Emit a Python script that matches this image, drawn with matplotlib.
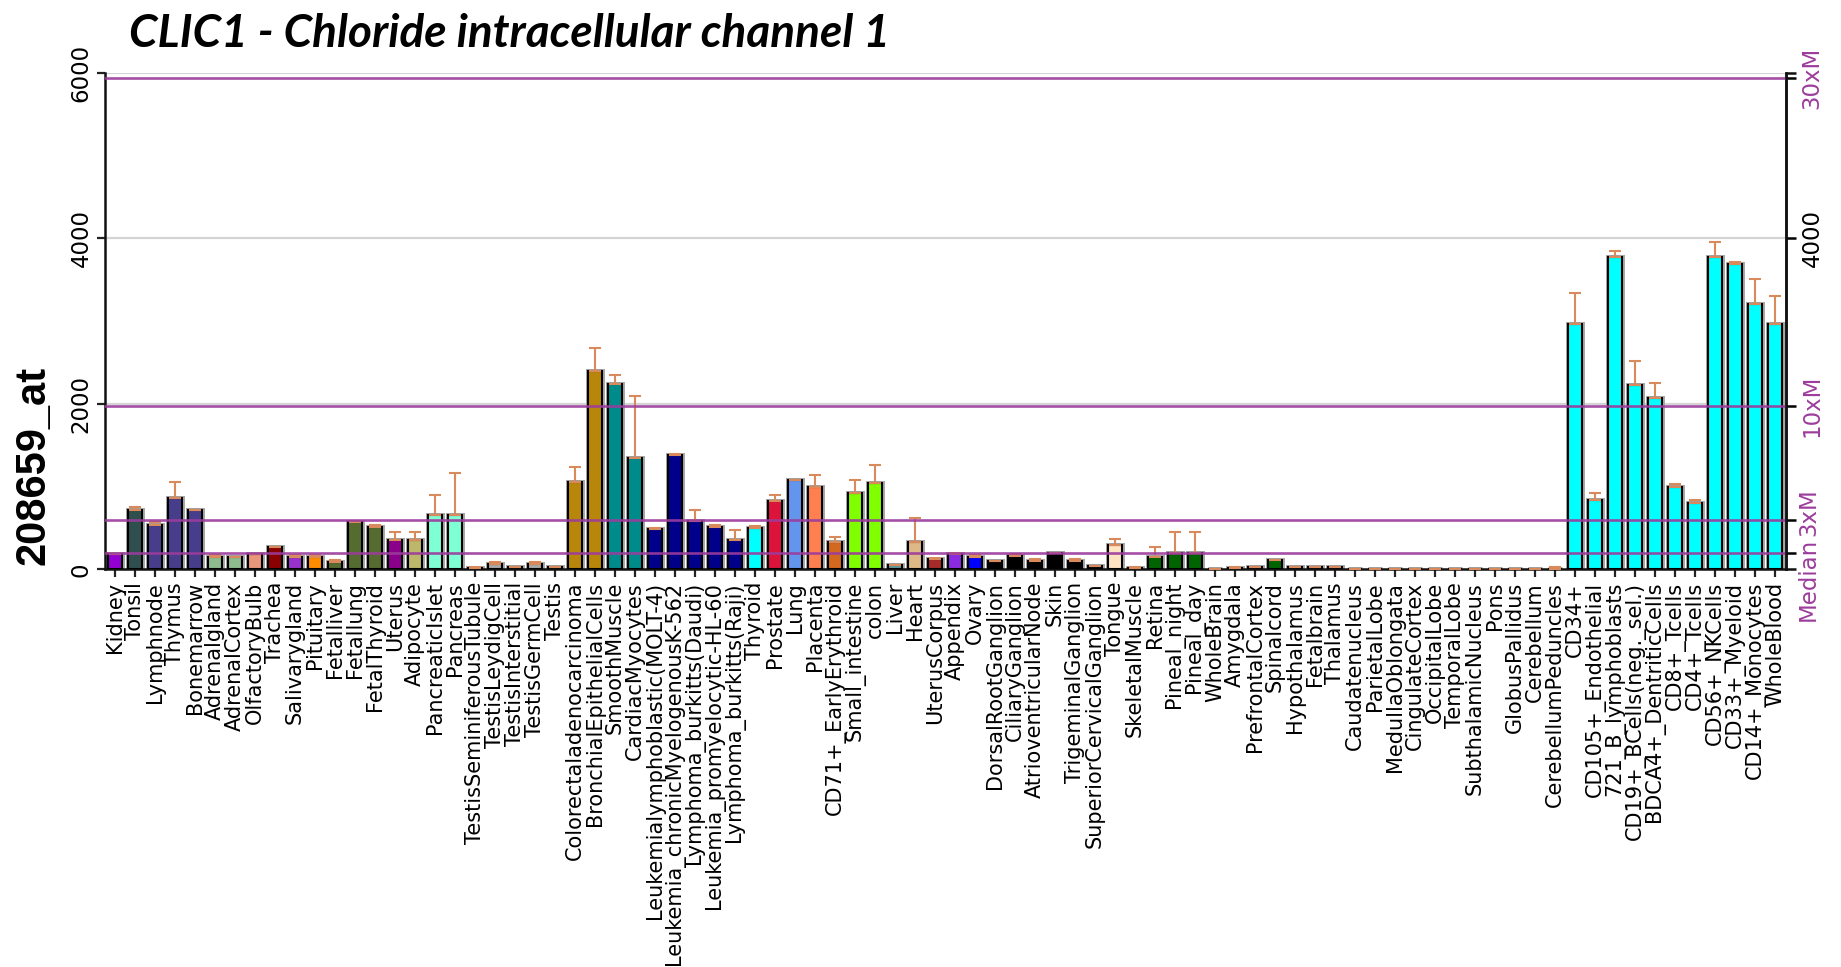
import matplotlib
matplotlib.use("Agg")
import matplotlib.pyplot as plt
import numpy as np

# tissue names, in plot order
tissues = [
    "Kidney", "Tonsil", "Lymphnode", "Thymus", "Bonemarrow", "Adrenalgland",
    "AdrenalCortex", "OlfactoryBulb", "Trachea", "Salivarygland", "Pituitary",
    "Fetalliver", "Fetallung", "FetalThyroid", "Uterus", "Adipocyte",
    "PancreaticIslet", "Pancreas", "TestisSeminiferousTubule", "TestisLeydigCell",
    "TestisInterstitial", "TestisGermCell", "Testis", "Colorectaladenocarcinoma",
    "BronchialEpithelialCells", "SmoothMuscle", "CardiacMyocytes",
    "Leukemialymphoblastic(MOLT-4)", "Leukemia_chronicMyelogenousK-562",
    "Lymphoma_burkitts(Daudi)", "Leukemia_promyelocytic-HL-60",
    "Lymphoma_burkitts(Raji)", "Thyroid", "Prostate", "Lung", "Placenta",
    "CD71+_EarlyErythroid", "Small_intestine", "colon", "Liver", "Heart",
    "UterusCorpus", "Appendix", "Ovary", "DorsalRootGanglion", "CiliaryGanglion",
    "AtrioventricularNode", "Skin", "TrigeminalGanglion",
    "SuperiorCervicalGanglion", "Tongue", "SkeletalMuscle", "Retina",
    "Pineal_night", "Pineal_day", "WholeBrain", "Amygdala", "PrefrontalCortex",
    "Spinalcord", "Hypothalamus", "Fetalbrain", "Thalamus", "Caudatenucleus",
    "ParietalLobe", "MedullaOblongata", "CingulateCortex", "OccipitalLobe",
    "TemporalLobe", "SubthalamicNucleus", "Pons", "GlobusPallidus", "Cerebellum",
    "CerebellumPeduncles", "CD34+", "CD105+_Endothelial", "721_B_lymphoblasts",
    "CD19+_BCells(neg._sel.)", "BDCA4+_DentriticCells", "CD8+_Tcells",
    "CD4+_Tcells", "CD56+_NKCells", "CD33+_Myeloid", "CD14+_Monocytes",
    "WholeBlood",
]

expr = [
    190, 720, 536, 868, 716, 150, 150, 188, 268, 150, 150,
    96, 568, 516, 356, 356, 660, 660, 14, 60, 28, 60, 28, 1052,
    2400, 2245, 1348, 488, 1384, 584, 508, 360, 504, 828, 1076, 996,
    328, 928, 1048, 56, 328, 124, 190, 148, 100, 168, 108, 200, 108,
    40, 300, 18, 156, 200, 200, 5, 18, 28, 120, 28, 28, 28, 4,
    4, 4, 4, 4, 4, 4, 4, 4, 4, 8, 2964, 836, 3780,
    2228, 2068, 996, 808, 3780, 3688, 3208, 2968,
]

err_up = [
    0, 36, 32, 192, 0, 30, 0, 0, 0, 30, 30,
    20, 0, 20, 92, 92, 236, 508, 18, 28, 0, 28, 0, 180,
    275, 100, 750, 12, 16, 140, 24, 120, 24, 68, 0, 140,
    60, 148, 208, 0, 292, 20, 10, 30, 0, 24, 16, 0, 20,
    0, 68, 10, 120, 256, 256, 0, 8, 0, 0, 0, 0, 0, 0,
    0, 0, 0, 0, 0, 0, 0, 0, 0, 20, 376, 92, 64,
    292, 180, 32, 28, 176, 20, 300, 332,
]

bar_colors = (
    ["#9400D3", "#2F4F4F", "#483D8B", "#483D8B", "#483D8B", "#8FBC8F",
     "#8FBC8F", "#E9967A", "#8B0000", "#9932CC", "#FF8C00", "#556B2F",
     "#556B2F", "#556B2F", "#8B008B", "#BDB76B", "#7FFFD4", "#7FFFD4"]
    + ["#A9A9A9"] * 5
    + ["#B8860B", "#B8860B", "#008B8B", "#008B8B"]
    + ["#00008B"] * 5
    + ["#00FFFF", "#DC143C", "#6495ED", "#FF7F50", "#D2691E", "#7FFF00",
       "#7FFF00", "#5F9EA0", "#DEB887", "#A52A2A", "#8A2BE2", "#0000FF"]
    + ["#000000"] * 6
    + ["#FFE4C4", "#000000", "#006400", "#006400", "#006400", "#000000",
       "#000000", "#000000", "#006400"]
    + ["#000000"] * 14
    + ["#00FFFF"] * 11
)

median = 198
ref_lines = [median, 3 * median, 10 * median, 30 * median]
ref_names = ["Median", "3xM", "10xM", "30xM"]

purple = "#9C3C9C"
err_col = "#D98A5C"

fig = plt.figure(figsize=(18.41, 9.67), dpi=100)
ax = fig.add_axes([0.0570, 0.4111, 0.9131, 0.5137])

x = np.arange(len(tissues))
# grey halo, then the bars
ax.bar(x, expr, width=0.68, color="none", edgecolor="#A8A8A8", linewidth=3.6, zorder=2)
ax.bar(x, expr, width=0.68, color=bar_colors, edgecolor="black", linewidth=1.5, zorder=3)
ax.errorbar(x, expr, yerr=[np.zeros(len(expr)), err_up], fmt="none",
            ecolor=err_col, elinewidth=1.5, capsize=4.5, capthick=1.5, zorder=4)

for g in [2000, 4000, 6000]:
    ax.axhline(g, color="#D4D4D4", lw=1.6, zorder=0)
for v in ref_lines:
    ax.axhline(v, color=purple, lw=1.9, alpha=0.9, zorder=5)

ax.set_xlim(-0.5, 83.55)
ax.set_ylim(0, 6000)
ax.set_xticks(x)
ax.set_xticklabels(tissues, rotation=90, fontsize=15, family="DejaVu Sans")
ax.set_yticks([0, 2000, 4000, 6000])
ax.set_yticklabels(["0", "2000", "4000", "6000"], rotation=90, va="center",
                   fontsize=16.5, family="DejaVu Sans")
ax.tick_params(axis="both", length=6, width=1.6, color="#222222", pad=3)

ax.spines["top"].set_visible(False)
for s in ["left", "right", "bottom"]:
    ax.spines[s].set_linewidth(1.8)
    ax.spines[s].set_color("#111111")

# right side axis with the median multiples
ax2 = ax.twinx()
ax2.set_ylim(0, 6000)
r_ticks = [ref_lines[0], ref_lines[1], ref_lines[2], 4000, ref_lines[3]]
r_labels = ["", "", ref_names[2], "4000", ref_names[3]]
ax2.set_yticks(r_ticks)
ax2.set_yticklabels(r_labels, rotation=90, va="center", fontsize=16.5, family="DejaVu Sans")
ax2.set_yticks([0, 6000], minor=True)
ax2.tick_params(axis="y", which="both", length=7, width=1.8)
ax2.tick_params(axis="y", which="minor", color="#111111")
for t, lab in zip(ax2.yaxis.get_major_ticks(), r_labels):
    c = "black" if lab == "4000" else purple
    t.tick2line.set_color(c)
    t.label2.set_color(c)
for s in ["top", "left", "bottom"]:
    ax2.spines[s].set_visible(False)
ax2.spines["right"].set_linewidth(1.8)
ax2.spines["right"].set_color("#111111")

# Median and 3xM are too close, so their labels are placed by hand
lab_tr = ax2.get_yaxis_transform()
ax2.annotate(ref_names[1], xy=(1.0, 690), xycoords=lab_tr, xytext=(8, 0),
             textcoords="offset points", rotation=90, ha="left", va="center",
             fontsize=16.5, color=purple, family="DejaVu Sans", annotation_clip=False)
ax2.annotate(ref_names[0], xy=(1.0, -125), xycoords=lab_tr, xytext=(8, 0),
             textcoords="offset points", rotation=90, ha="left", va="center",
             fontsize=16.5, color=purple, family="DejaVu Sans", annotation_clip=False)

fig.text(0.018, 1 - 465 / 967, "208659_at", rotation=90, ha="center", va="center",
         fontsize=30, fontweight="bold", family="Liberation Sans")
fig.text(0.070, 1 - 47 / 967, "CLIC1 - Chloride intracellular channel 1",
         ha="left", va="baseline", fontsize=33, fontweight="bold", fontstyle="italic",
         family="Lato")

fig.savefig("out.png", dpi=100)
